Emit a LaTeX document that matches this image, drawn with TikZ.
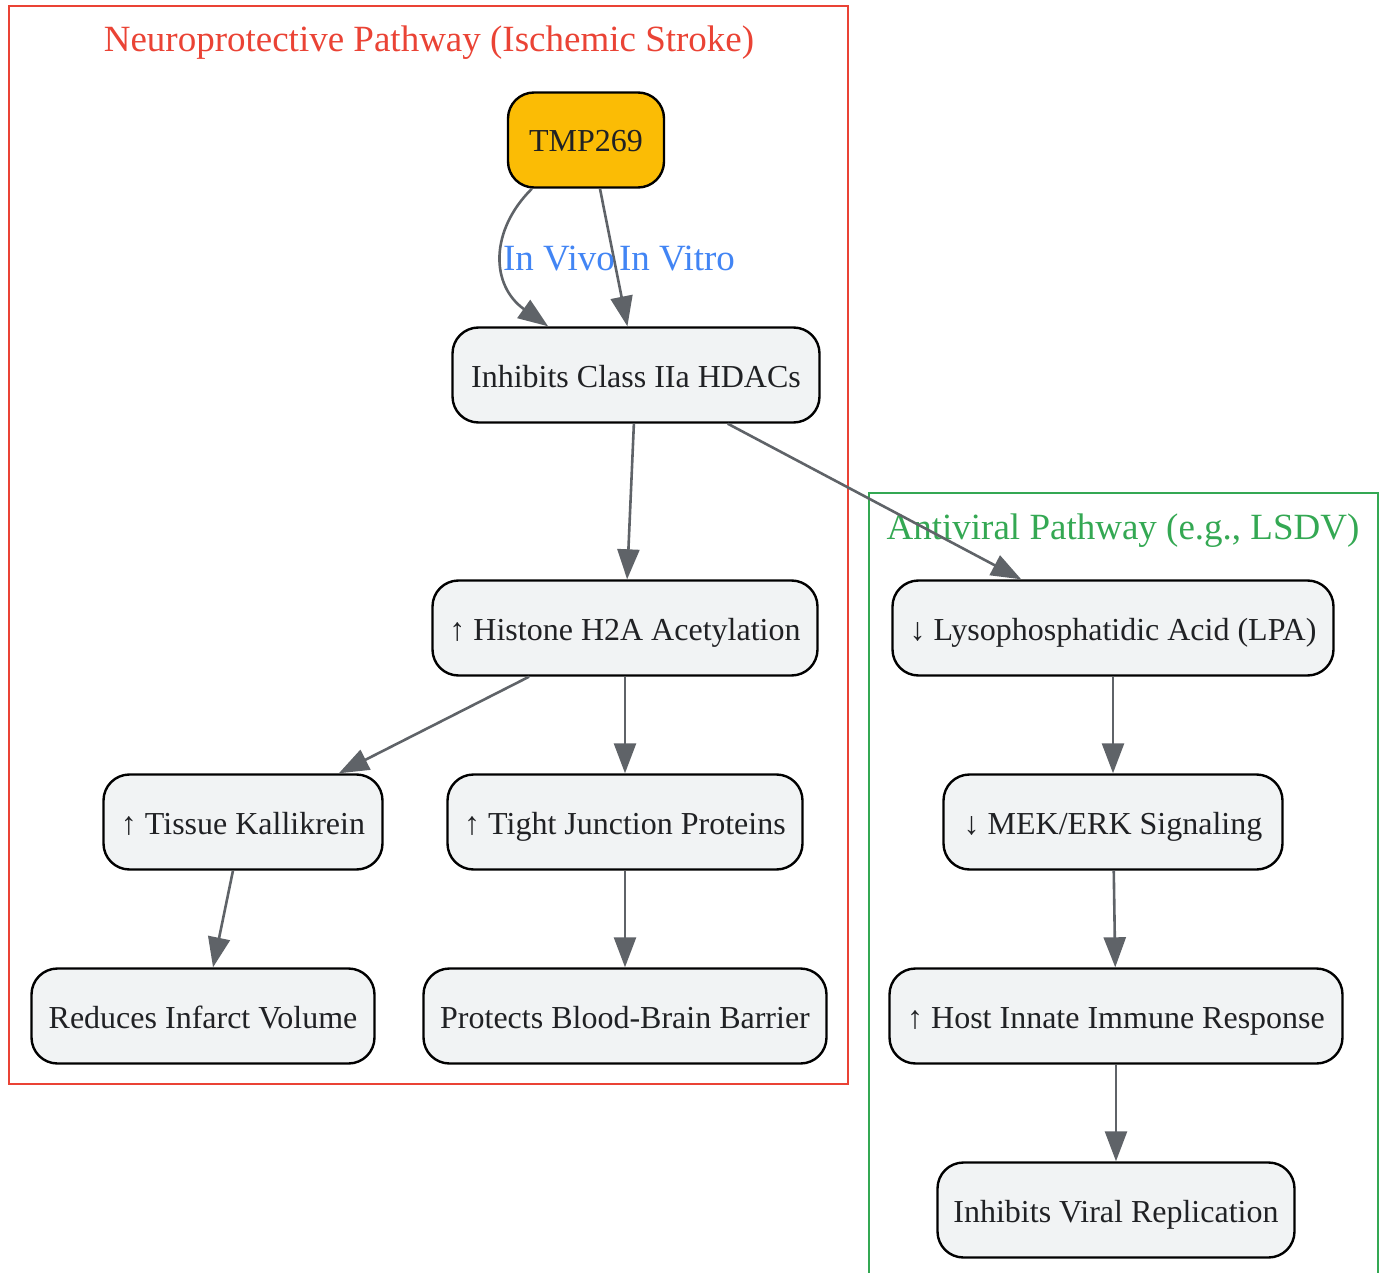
\documentclass[tikz,border=0pt]{standalone}
\usepackage{fontspec}
\setmainfont{Liberation Serif}
\usetikzlibrary{arrows.meta}
\definecolor{gold}{HTML}{FBBC05}
\definecolor{nodefill}{HTML}{F1F3F4}
\definecolor{txt}{HTML}{202124}
\definecolor{edgec}{HTML}{5F6368}
\definecolor{redc}{HTML}{EA4335}
\definecolor{greenc}{HTML}{34A853}
\definecolor{bluec}{HTML}{4285F4}
\begin{document}
\begin{tikzpicture}[x=0.5pt,y=-0.5pt,
  box/.style={draw=black, line width=1.2pt, rounded corners=13pt, fill=nodefill, text=txt,
    font=\fontsize{16}{19}\selectfont, minimum height=47.5pt, inner xsep=0pt, inner ysep=0pt,
    text height=15pt, text depth=3pt},
  edge/.style={draw=edgec, line width=1.3pt, -{Triangle[length=15pt,width=11pt]}},
  cluster/.style={line width=1pt},
  ctitle/.style={font=\fontsize{18.5}{22}\selectfont},
  elabel/.style={font=\fontsize{18.5}{22}\selectfont, text=bluec},
]
\useasboundingbox (0,0) rectangle (1382,1273);

% clusters
\draw[cluster, draw=redc] (9,6) rectangle (848,1084);
\node[ctitle, text=redc] (t1) at (429,43) {Neuroprotective Pathway (Ischemic Stroke)};
\draw[cluster, draw=greenc] (869,1273) -- (869,493) -- (1378,493) -- (1378,1273);
\node[ctitle, text=greenc] (t2) at (1123,531) {Antiviral Pathway (e.g., LSDV)};

% nodes
\node[box, fill=gold, minimum width=78pt] (tmp) at (586,140) {TMP269};
\node[box, minimum width=183.5pt] (hdac) at (636,375) {Inhibits Class IIa HDACs};
\node[box, minimum width=192.5pt] (h2a) at (625,628) {↑ Histone H2A Acetylation};
\node[box, minimum width=139.5pt] (kal) at (243,822) {↑ Tissue Kallikrein};
\node[box, minimum width=177.5pt] (tight) at (625,822) {↑ Tight Junction Proteins};
\node[box, minimum width=171.5pt] (inf) at (203,1016) {Reduces Infarct Volume};
\node[box, minimum width=201.5pt] (bbb) at (625,1016) {Protects Blood-Brain Barrier};
\node[box, minimum width=220.5pt] (lpa) at (1113,628) {↓ Lysophosphatidic Acid (LPA)};
\node[box, minimum width=169.5pt] (mek) at (1113,822) {↓ MEK/ERK Signaling};
\node[box, minimum width=226.5pt] (host) at (1116,1016) {↑ Host Innate Immune Response};
\node[box, minimum width=178.5pt] (viral) at (1116,1210) {Inhibits Viral Replication};

% edges
\draw[edge] (tmp.222) .. controls (490,230) and (490,285) .. (hdac.151);
\draw[edge] (tmp.286) -- (hdac.100);
\node[elabel] (lv) at (559,259) {In Vivo};
\node[elabel] (lt) at (677,259) {In Vitro};
\draw[edge] (hdac) -- (h2a);
\draw[edge] (hdac) -- (lpa);
\draw[edge] (h2a) -- (kal);
\draw[edge] (h2a) -- (tight);
\draw[edge] (kal) -- (inf);
\draw[edge] (tight) -- (bbb);
\draw[edge] (lpa) -- (mek);
\draw[edge] (mek) -- (host);
\draw[edge] (host) -- (viral);
\end{tikzpicture}
\end{document}
